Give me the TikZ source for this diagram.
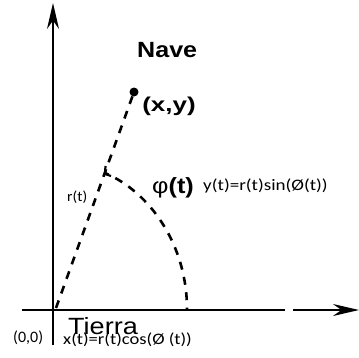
\documentclass[tikz,border=0pt]{standalone}
\usepackage{fontspec}
\setmainfont{Carlito}
\newfontfamily\arialfont{Liberation Sans}
\usetikzlibrary{arrows.meta}
\begin{document}
\begin{tikzpicture}[x=1pt,y=-1pt,
  axisline/.style={line width=1.8pt},
  axisarrow/.style={line width=1.8pt, -{Stealth[length=26pt,width=12pt]}},
  dashline/.style={line width=2.6pt, dash pattern=on 8pt off 7.5pt},
  txt/.style={inner sep=0pt, anchor=base west},
  small/.style={txt, font=\fontsize{16}{18}\selectfont},
  boldlbl/.style={txt, font=\arialfont\bfseries\fontsize{20}{22}\selectfont}]
\useasboundingbox (0,0) rectangle (359,357);
% axes
\coordinate (ybot) at (53,345);
\coordinate (ytop) at (53,3);
\coordinate (xl) at (22,310);
\coordinate (gapl) at (285,310);
\coordinate (gapr) at (293,310);
\coordinate (xr) at (359,310);
\draw[axisarrow] (ybot) -- (ytop);
\draw[axisline] (xl) -- (gapl);
\draw[axisarrow] (gapr) -- (xr);
% radius and arc
\coordinate (r0) at (56,308);
\coordinate (P) at (134,92);
\coordinate (C) at (105,173);
\coordinate (A) at (187,309);
\draw[dashline] (r0) -- (P);
\fill (P) circle (4.5);
\draw[line width=2.2pt] (105.5,166) -- (105,174) -- (111,176);
\draw[dashline, dash phase=4pt] (C) .. controls (150,192) and (187,245) .. (A);
% labels
\node[boldlbl, font=\arialfont\bfseries\fontsize{22}{24}\selectfont, xscale=1.14] (nave) at (137,57.5) {Nave};
\node[boldlbl, xscale=1.3] (xy) at (142,111) {(x,y)};
\node[txt, font=\fontsize{14.5}{16}\selectfont, xscale=1.07] (rt) at (67,201.7) {r(t)};
\node[txt, font=\arialfont\fontsize{22}{24}\selectfont, xscale=1.15] (phi) at (152,193.5) {φ\textbf{(t)}};
\node[small, xscale=1.19] (yt) at (203,190.4) {y(t)=r(t)sin(Ø(t))};
\node[txt, font=\arialfont\fontsize{23.5}{26}\selectfont, xscale=1.15] (tierra) at (68,334) {Tierra};
\node[small] (origin) at (13,342.5) {(0,0)};
\node[small, xscale=1.16] (xt) at (63,344) {x(t)=r(t)cos(Ø (t))};
\end{tikzpicture}
\end{document}
